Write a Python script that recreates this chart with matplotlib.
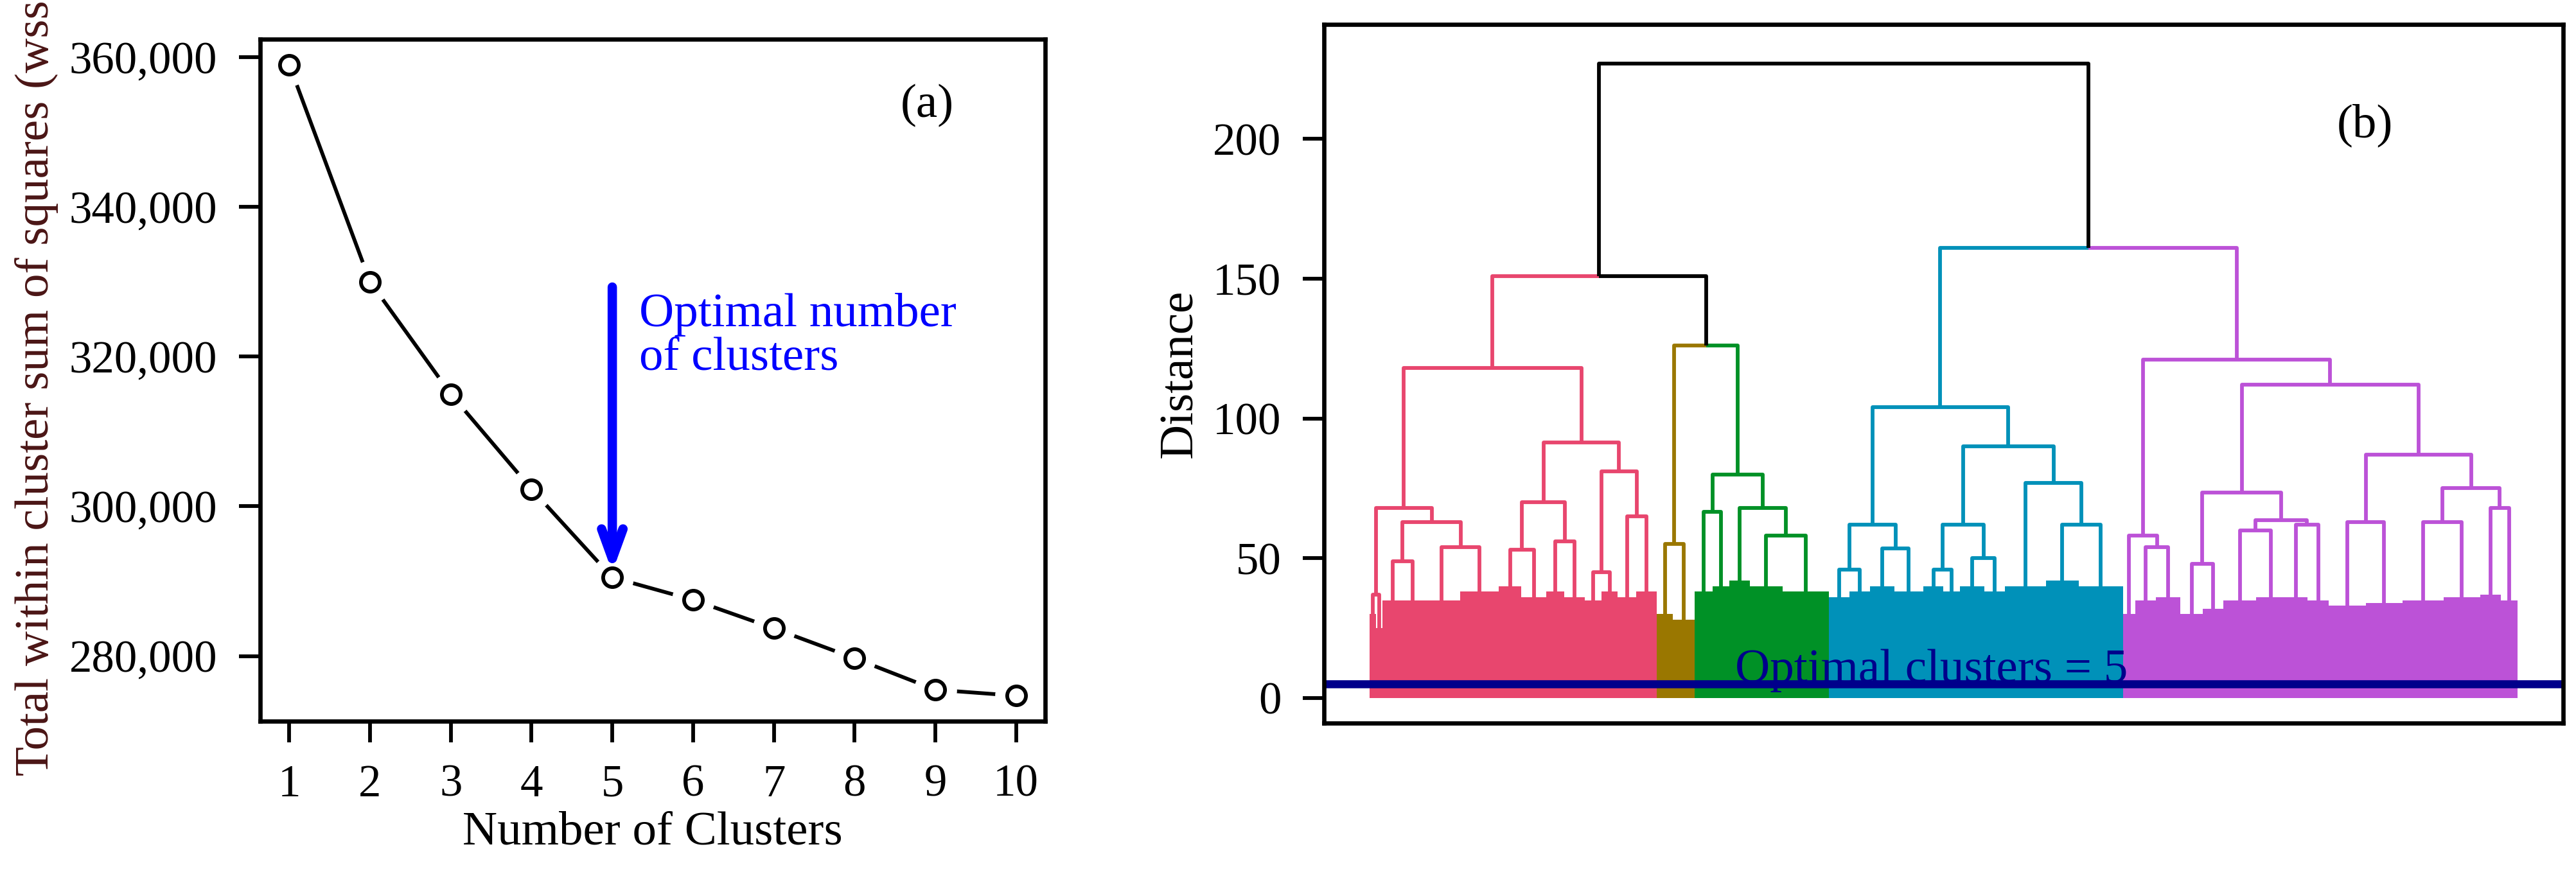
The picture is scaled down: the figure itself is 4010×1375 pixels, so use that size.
import matplotlib
matplotlib.use("Agg")
import matplotlib.pyplot as plt
from matplotlib.patches import Rectangle

plt.rcParams["font.family"] = "Liberation Serif"

# ---------------- data ----------------
k_values = [1, 2, 3, 4, 5, 6, 7, 8, 9, 10]
wss_values = [359000, 330000, 315000, 302300, 290500, 287500, 283700, 279700, 275500, 274700]
wss_ticks = [280000, 300000, 320000, 340000, 360000]
wss_tick_labels = ["280,000", "300,000", "320,000", "340,000", "360,000"]

dist_ticks = [0, 50, 100, 150, 200]
cluster_colors = ["#E8466E", "#9A7700", "#009126", "#0091B9", "#BC52D7"]
cut_height = 5

def B(w, top):
    return ("B", w, top)

pink = [118,
        [68, [37, B(15, 30), B(15, 25)],
             [63, [49, B(50, 35), B(50, 35)], [54, B(90, 35), B(95, 38)]]],
        [91.5, [70, [53, B(55, 40), B(60, 36)], [56, B(45, 38), B(50, 36)]],
               [81, [45, B(40, 35), B(40, 38)], [65, B(45, 36), B(50, 38)]]]]
olive = [55, B(40, 30), B(52, 28)]
green = [80, [66.5, B(45, 38), B(40, 40)],
             [68, B(50, 42), [58, B(80, 40), B(113, 38)]]]
blue = [104,
        [62, [46, B(50, 36), B(50, 38)], [53.5, B(60, 40), B(70, 38)]],
        [90, [62, [46, B(50, 40), B(40, 38)], [50, B(60, 40), B(50, 38)]],
             [77, B(100, 40), [62, B(80, 42), B(108, 40)]]]]
purple = [121,
          [58, B(30, 30), [54, B(50, 35), B(60, 36)]],
          [112,
           [73.5, [48, B(55, 30), B(50, 32)],
                  [63.5, [60, B(80, 35), B(70, 36)], [62, B(55, 36), B(52, 35)]]],
           [87, [63, B(90, 33), B(90, 34)],
                [75, [63, B(100, 35), B(90, 36)], [68, B(50, 37), B(40, 35)]]]]]

tree = [227,
        [151, ("C", cluster_colors[0], pink),
              [126, ("C", cluster_colors[1], olive), ("C", cluster_colors[2], green)]],
        [161, ("C", cluster_colors[3], blue), ("C", cluster_colors[4], purple)]]

# ---------------- figure ----------------
W, H = 4011, 1375
fig = plt.figure(figsize=(W / 300, H / 300), dpi=300)

# ----- panel (a)
ax1 = fig.add_axes([405 / W, 1 - 1123 / H, (1627 - 405) / W, (1123 - 61) / H])
ax1.plot(k_values, wss_values, color="black", lw=1.4, zorder=1)
ax1.plot(k_values, wss_values, "o", ms=15, color="white", zorder=2)
ax1.plot(k_values, wss_values, "o", ms=7, mfc="white", mec="black", mew=1.4, zorder=3)
ax1.set_xlim(0.64, 10.36)
ax1.set_ylim(271300, 362400)
ax1.set_xticks(k_values)
ax1.set_yticks(wss_ticks)
ax1.set_yticklabels(wss_tick_labels)
ax1.tick_params(direction="out", length=8, width=1.4, labelsize=17, pad=8)
ax1.set_xlabel("Number of Clusters", fontsize=18, labelpad=2)
ax1.set_ylabel("Total within cluster sum of squares (wss)", fontsize=18, color="#4a1515")
for s in ax1.spines.values():
    s.set_linewidth(1.6)
ax1.annotate("", xy=(5, wss_values[4]), xytext=(5, 330000),
             arrowprops=dict(arrowstyle="->,head_length=1.1,head_width=0.4", color="blue", lw=3.5))
ax1.text(5.33, 328500, "Optimal number\nof clusters", color="blue", fontsize=18,
         va="top", ha="left", linespacing=1.0)
ax1.text(8.9, 353500, "(a)", fontsize=18, ha="center", va="center")

# ----- panel (b)
ax2 = fig.add_axes([2061 / W, 1 - 1126 / H, (3990 - 2061) / W, (1126 - 38) / H])

def leaf_width(node):
    if isinstance(node, tuple):
        if node[0] == "B":
            return node[1]
        return leaf_width(node[2])
    return leaf_width(node[1]) + leaf_width(node[2])

def draw(node, x0, color):
    """returns (x, top, color)"""
    if isinstance(node, tuple):
        if node[0] == "B":
            w, top = node[1], node[2]
            ax2.add_patch(Rectangle((x0, 0), w, top, facecolor=color, edgecolor="none"))
            return x0 + w / 2, top, color
        return draw(node[2], x0, node[1])
    h, left, right = node
    lx, lh, lc = draw(left, x0, color)
    rx, rh, rc = draw(right, x0 + leaf_width(left), color)
    x = (lx + rx) / 2
    for cx, ch, cc in ((lx, lh, lc), (rx, rh, rc)):
        ax2.plot([cx, cx, x], [ch, h, h], color=cc, lw=1.4, solid_capstyle="butt")
    return x, h, color

total = leaf_width(tree)
draw(tree, 0, "black")
ax2.set_xlim(-total * 0.04, total * 1.04)
ax2.set_ylim(-9, 241)
ax2.axhline(cut_height, color="#00008B", lw=3)
ax2.text(0.49, 2.0, "Optimal clusters = 5", transform=ax2.get_yaxis_transform(),
         color="#00008B", fontsize=18, ha="center", va="bottom")
ax2.set_yticks(dist_ticks)
ax2.set_xticks([])
ax2.tick_params(direction="out", length=8, width=1.4, labelsize=17, pad=8)
ax2.set_ylabel("Distance", fontsize=18)
ax2.text(0.84, 0.855, "(b)", transform=ax2.transAxes, fontsize=18, ha="center", va="center")
for s in ax2.spines.values():
    s.set_linewidth(1.6)

fig.savefig("out.png", dpi=300)
